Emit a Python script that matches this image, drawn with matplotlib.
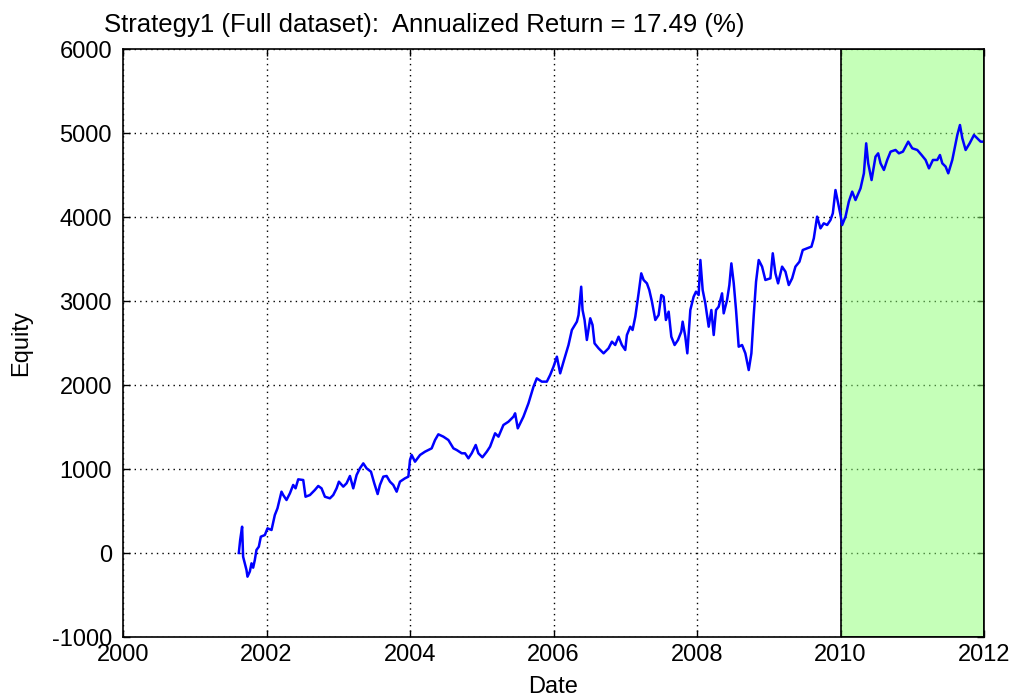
import matplotlib
matplotlib.use("Agg")
import matplotlib.pyplot as plt
from matplotlib.patches import Rectangle

title_text = "Strategy1 (Full dataset):  Annualized Return = 17.49 (%)"
x_label = "Date"
y_label = "Equity"
x_ticks = [2000, 2002, 2004, 2006, 2008, 2010, 2012]
y_ticks = [-1000, 0, 1000, 2000, 3000, 4000, 5000, 6000]
test_start = 2010.0
test_end = 2012.0

years = [
    2001.614, 2001.633, 2001.660, 2001.674, 2001.721, 2001.735, 2001.768, 2001.791,
    2001.814, 2001.837, 2001.860, 2001.893, 2001.921, 2001.977, 2002.014, 2002.070,
    2002.116, 2002.153, 2002.209, 2002.233, 2002.279, 2002.326, 2002.372, 2002.405,
    2002.442, 2002.512, 2002.544, 2002.605, 2002.674, 2002.721, 2002.767, 2002.814,
    2002.884, 2002.930, 2002.977, 2003.009, 2003.070, 2003.116, 2003.163, 2003.209,
    2003.256, 2003.302, 2003.349, 2003.395, 2003.456, 2003.502, 2003.549, 2003.581,
    2003.628, 2003.674, 2003.721, 2003.767, 2003.814, 2003.860, 2003.930, 2003.977,
    2004.000, 2004.023, 2004.070, 2004.140, 2004.209, 2004.302, 2004.349, 2004.395,
    2004.465, 2004.535, 2004.605, 2004.651, 2004.721, 2004.767, 2004.814, 2004.860,
    2004.916, 2004.953, 2005.009, 2005.070, 2005.116, 2005.186, 2005.233, 2005.302,
    2005.372, 2005.442, 2005.465, 2005.502,
    2005.581, 2005.651, 2005.721, 2005.767, 2005.837, 2005.907, 2005.953, 2006.000,
    2006.047, 2006.093, 2006.140, 2006.209, 2006.256, 2006.326, 2006.349, 2006.386,
    2006.405, 2006.433, 2006.465, 2006.512, 2006.544, 2006.572, 2006.628, 2006.698,
    2006.767, 2006.814, 2006.860, 2006.907, 2006.953, 2007.000, 2007.023, 2007.070,
    2007.102, 2007.140, 2007.186, 2007.223, 2007.256, 2007.302, 2007.335, 2007.372,
    2007.419, 2007.465, 2007.502, 2007.535, 2007.567, 2007.605, 2007.642, 2007.688,
    2007.735, 2007.781, 2007.800, 2007.837, 2007.865, 2007.907, 2007.953, 2007.986,
    2008.023, 2008.047, 2008.079, 2008.116, 2008.163, 2008.200, 2008.233, 2008.265,
    2008.302, 2008.349, 2008.372, 2008.419, 2008.451, 2008.479, 2008.512, 2008.544,
    2008.581, 2008.628, 2008.674, 2008.721, 2008.758, 2008.791, 2008.823, 2008.860,
    2008.907, 2008.953, 2009.023, 2009.056, 2009.093, 2009.130, 2009.186, 2009.233,
    2009.279, 2009.326, 2009.372, 2009.428, 2009.474, 2009.535, 2009.595, 2009.628,
    2009.674, 2009.721, 2009.767, 2009.814, 2009.860, 2009.893, 2009.930, 2009.967,
    2010.000, 2010.023, 2010.070, 2010.116, 2010.163, 2010.209, 2010.279, 2010.326,
    2010.358, 2010.386, 2010.433, 2010.488, 2010.525, 2010.558, 2010.605, 2010.651,
    2010.698, 2010.767, 2010.814, 2010.870, 2010.944, 2011.000, 2011.070, 2011.130,
    2011.186, 2011.233, 2011.288, 2011.349, 2011.386, 2011.419, 2011.465, 2011.502,
    2011.558, 2011.595, 2011.628, 2011.665, 2011.698, 2011.744, 2011.800, 2011.860,
    2011.907, 2011.953, 2012.000,
]

equity = [
    0, 155, 313, -44, -202, -282, -220, -123,
    -175, -84, 36, 75, 194, 214, 294, 274,
    452, 532, 730, 690, 631, 710, 810, 770,
    877, 869, 670, 690, 750, 798, 770, 670,
    651, 690, 770, 849, 790, 830, 917, 770,
    929, 1008, 1067, 1008, 968, 830, 702, 810,
    909, 917, 849, 810, 730, 849, 889, 909,
    1107, 1167, 1087, 1167, 1206, 1246, 1345, 1413,
    1385, 1345, 1246, 1226, 1187, 1187, 1127, 1187,
    1286, 1187, 1139, 1206, 1266, 1425, 1385, 1524,
    1563, 1623, 1663, 1484,
    1623, 1782, 1980, 2079, 2040, 2040, 2119, 2218,
    2337, 2139, 2278, 2476, 2655, 2754, 2833, 3170,
    2893, 2774, 2536, 2794, 2715, 2496, 2437, 2377,
    2437, 2516, 2476, 2575, 2476, 2417, 2595, 2694,
    2655, 2813, 3091, 3329, 3250, 3210, 3131, 2992,
    2774, 2833, 3071, 3051, 2774, 2873, 2575, 2476,
    2536, 2635, 2754, 2575, 2377, 2893, 3051, 3111,
    3071, 3488, 3131, 2972, 2694, 2893, 2595, 2893,
    2932, 3091, 2853, 3012, 3190, 3448, 3210, 2893,
    2456, 2476, 2377, 2178, 2377, 2833, 3230, 3488,
    3409, 3250, 3270, 3568, 3329, 3210, 3409, 3349,
    3190, 3270, 3409, 3468, 3607, 3627, 3647, 3746,
    4004, 3865, 3925, 3905, 3964, 4044, 4321, 4163,
    4024, 3905, 4004, 4183, 4302, 4202, 4341, 4520,
    4877, 4639, 4440, 4718, 4758, 4639, 4560, 4679,
    4778, 4798, 4758, 4778, 4897, 4818, 4798, 4738,
    4679, 4579, 4679, 4679, 4738, 4639, 4600, 4520,
    4679, 4837, 4976, 5095, 4937, 4798, 4877, 4976,
    4937, 4897, 4897,
]

plt.rcParams['font.family'] = ['Liberation Sans', 'DejaVu Sans']

W, H = 1014, 699
fig = plt.figure(figsize=(W / 100, H / 100), dpi=100)
ax_left, ax_right, ax_top, ax_bottom = 123, 984, 49, 637
ax = fig.add_axes([ax_left / W, 1 - ax_bottom / H,
                   (ax_right - ax_left) / W, (ax_bottom - ax_top) / H])

ax.set_xlim(x_ticks[0], x_ticks[-1])
ax.set_ylim(y_ticks[0], y_ticks[-1])

ax.grid(True, color='black', linestyle=(0, (1, 3)), linewidth=1.0, zorder=1)
ax.set_axisbelow(True)

ax.add_patch(Rectangle((test_start, y_ticks[0]), test_end - test_start,
                       y_ticks[-1] - y_ticks[0],
                       facecolor=(0.55, 1.0, 0.45, 0.5), edgecolor='black',
                       linewidth=1.2, zorder=2))

ax.plot(years, equity, color=(0, 0, 1), linewidth=1.8, zorder=3)

ax.set_xticks(x_ticks)
ax.set_yticks(y_ticks)
ax.set_xticklabels([str(t) for t in x_ticks])
ax.set_yticklabels([str(t) for t in y_ticks])
ax.tick_params(direction='in', length=5, width=1, top=True, right=True,
               labelsize=17, colors='black', pad=8)
ax.tick_params(axis='x', pad=5)
for s in ax.spines.values():
    s.set_linewidth(1.2)
    s.set_color('black')
    s.set_zorder(5)

fig.text(104 / W, 1 - 32 / H, title_text, fontsize=18.5,
         ha='left', va='baseline')
ax.set_xlabel(x_label, fontsize=17, labelpad=7)
ax.set_ylabel(y_label, fontsize=17, labelpad=14)

fig.savefig("out.png", dpi=100)
